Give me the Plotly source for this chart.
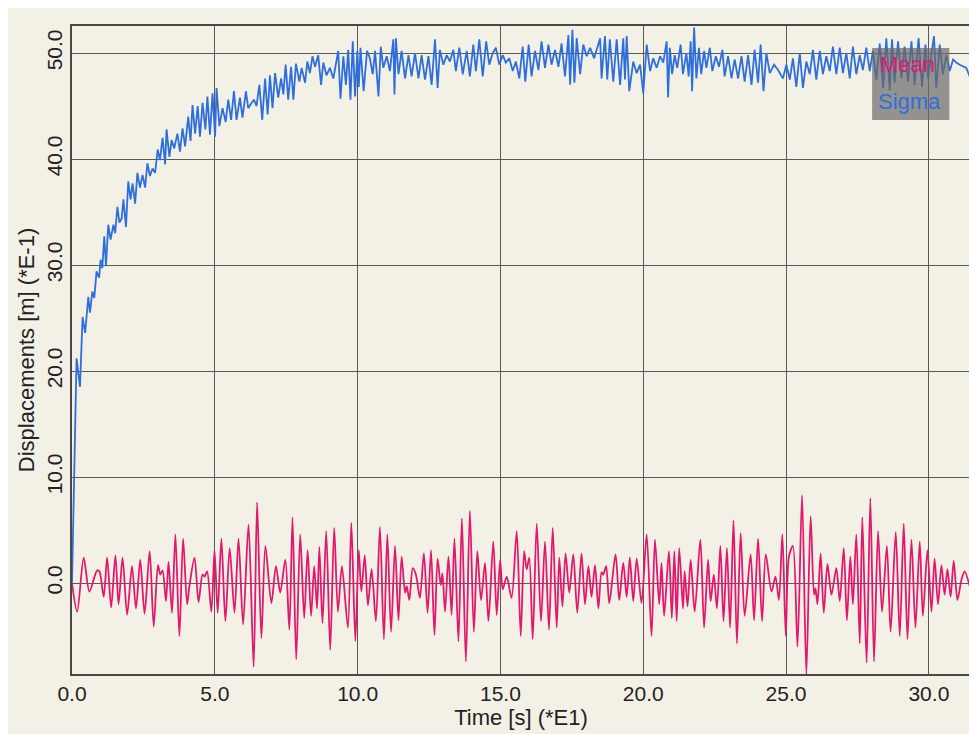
import plotly.graph_objects as go

# ---- data ----
mean_t = [0.00, 0.18, 0.41, 0.61, 0.88, 0.96, 1.11, 1.23, 1.37, 1.52, 1.63, 1.77, 1.93, 2.10, 2.24, 2.39,
          2.54, 2.72, 2.86, 3.01, 3.09, 3.17, 3.29, 3.38, 3.50, 3.62, 3.76, 3.89, 4.03, 4.11, 4.29, 4.43,
          4.57, 4.64, 4.73, 4.88, 4.99, 5.10, 5.23, 5.37, 5.52, 5.69, 5.83, 5.99, 6.18, 6.36, 6.48, 6.63,
          6.77, 6.98, 7.14, 7.29, 7.47, 7.61, 7.72, 7.85, 7.99, 8.13, 8.25, 8.37, 8.48, 8.58, 8.66, 8.77,
          8.90, 9.04, 9.18, 9.31, 9.45, 9.66, 9.78, 9.92, 10.04, 10.13, 10.25, 10.36,
          10.49, 10.64, 10.78, 10.92, 11.04, 11.17, 11.31, 11.43, 11.54, 11.66, 11.72, 11.81, 11.93, 12.04,
          12.18, 12.32, 12.45, 12.57, 12.69, 12.80, 12.91, 12.97, 13.06, 13.18, 13.29, 13.39, 13.53, 13.65,
          13.79, 13.93, 14.07, 14.19, 14.32, 14.46, 14.58, 14.75, 14.87, 14.99, 15.08, 15.22, 15.39, 15.57,
          15.71, 15.83, 15.92, 16.01, 16.13, 16.27, 16.42, 16.56, 16.70, 16.83, 16.97, 17.06, 17.17, 17.28,
          17.41, 17.55, 17.69, 17.84, 17.96, 18.08, 18.19, 18.31, 18.43, 18.54, 18.60, 18.70, 18.81, 19.03,
          19.16, 19.30, 19.42, 19.53, 19.65, 19.77, 19.94, 20.12, 20.29, 20.41, 20.56, 20.64, 20.73,
          20.90, 21.00, 21.09, 21.17, 21.26, 21.39, 21.45, 21.55, 21.66, 21.80, 22.00, 22.13, 22.27, 22.36,
          22.47, 22.58, 22.70, 22.81, 22.93, 23.04, 23.16, 23.28, 23.41, 23.55, 23.76, 23.88, 24.02, 24.16,
          24.29, 24.49, 24.63, 24.75, 24.87, 24.99, 25.10, 25.24, 25.40, 25.56, 25.71, 25.86, 25.98, 26.03,
          26.10, 26.21, 26.32, 26.45, 26.59, 26.76, 26.88, 27.02, 27.13, 27.25, 27.34, 27.46, 27.58, 27.67,
          27.82, 27.95, 28.08, 28.22, 28.36, 28.53, 28.66, 28.84, 28.98, 29.12, 29.25, 29.39, 29.53, 29.68,
          29.79, 29.95, 30.09, 30.20, 30.32, 30.44, 30.55, 30.65, 30.76, 30.87, 31.00, 31.14, 31.25, 31.43]
mean_v = [0.0, -2.7, 2.4, -0.8, 1.2, 1.1, -1.3, 2.4, -2.3, 2.6, -2.0, 2.4, -3.0, 1.6, -2.4, 2.2,
          -2.9, 3.0, -4.1, 1.7, 0.8, 1.2, -1.7, 2.0, -2.8, 4.6, -5.0, 4.2, -2.0, -0.3, 2.4, -1.8,
          0.8, 0.6, 1.1, -2.7, 3.1, -2.8, 4.2, -3.6, 3.3, -2.8, 4.2, -3.9, 5.5, -7.9, 7.6, -5.2,
          3.5, -1.9, 1.6, -0.9, 2.2, -4.4, 6.2, -7.2, 4.6, -3.3, 3.1, -3.1, 1.6, -2.4, 3.4, -3.8,
          4.9, -6.3, 5.2, -2.7, 1.6, -4.2, 5.7, -5.5, 3.1, -0.8, 2.6, -2.1,
          1.3, -3.6, 5.3, -5.3, 4.6, -4.6, 3.5, -3.5, 2.5, -0.9, -0.3, -1.6, 1.4, 0.8,
          -1.4, 2.8, -2.8, 3.1, -4.9, 2.3, -0.2, 0.9, -2.7, 2.5, -3.0, 4.2, -5.5, 6.1,
          -7.4, 6.8, -4.6, 3.0, -1.6, 1.9, -3.6, 3.9, -3.0, 2.2, -0.6, 0.6, -1.4, 4.9,
          -5.0, 3.0, 1.3, 2.4, -5.3, 5.6, -3.6, 3.9, -4.4, 5.2, -4.2, 2.4, -2.2, 2.8,
          -0.9, 2.7, -2.8, 2.8, -2.0, 1.6, -1.3, 1.7, -2.4, 1.0, 0.8, 1.6, -1.9, 2.7,
          -1.6, 1.9, -1.3, 2.4, -1.7, 2.3, -1.9, 4.6, -5.0, 4.1, -2.0, 1.9, -3.1,
          3.0, -3.3, 3.0, -3.6, 3.3, -2.4, 1.1, -2.2, 2.2, -2.7, 4.1, -4.2, 2.2, -1.7,
          0.8, -2.4, 3.5, -3.6, 3.3, -4.2, 5.9, -5.7, 4.7, -3.1, 2.7, -3.5, 4.2, -3.6,
          2.7, -0.8, 0.6, -1.6, 4.6, -5.0, 2.5, 3.5, -6.0, 8.3, -8.6, 6.3, -1.1, -0.5,
          -2.0, 2.8, -2.8, 1.8, -1.1, 1.4, -1.7, 3.3, -3.5, 2.5, -2.0, 4.6, -5.7, 6.2,
          -7.5, 8.0, -7.4, 4.9, -2.7, 3.5, -4.6, 4.8, -5.0, 5.6, -5.3, 4.1, -4.2, 3.9,
          -3.1, 3.1, -2.7, 2.3, -2.0, 1.7, -1.1, 1.3, -1.3, 2.1, -1.6, 0.3, 1.1, -0.3]

sigma_t = [0.00, 0.105, 0.16, 0.28, 0.37, 0.46, 0.57, 0.63, 0.71, 0.78, 0.86, 0.95, 1.00, 1.06, 1.13, 1.19,
           1.27, 1.35, 1.45, 1.51, 1.59, 1.66, 1.74, 1.80, 1.89, 1.97, 2.05, 2.12, 2.21, 2.29, 2.38, 2.47,
           2.56, 2.64, 2.73, 2.82, 2.91, 3.00, 3.08, 3.17, 3.26, 3.31, 3.41, 3.49, 3.58, 3.69, 3.78, 3.87,
           3.96, 4.07, 4.15, 4.22, 4.31, 4.40, 4.48, 4.57, 4.67, 4.74, 4.83, 4.92, 5.01, 5.06, 5.16, 5.27,
           5.38, 5.47, 5.57, 5.67, 5.76, 5.88, 5.97, 6.09, 6.17, 6.29, 6.37, 6.46, 6.56, 6.66, 6.76, 6.85,
           6.93, 7.02, 7.11, 7.22, 7.32, 7.40, 7.48, 7.57, 7.67, 7.75, 7.84, 7.96, 8.04, 8.16, 8.24, 8.33,
           8.42, 8.51, 8.62, 8.72, 8.80, 8.91, 9.03, 9.15, 9.32, 9.40, 9.50, 9.59, 9.67, 9.75, 9.83, 9.91,
           9.99, 10.04, 10.10, 10.21, 10.33,
           10.43, 10.53, 10.61, 10.73, 10.81, 10.90, 11.02, 11.13, 11.25, 11.29, 11.34, 11.43, 11.54, 11.66,
           11.78, 11.89, 12.01, 12.13, 12.24, 12.36, 12.48, 12.59, 12.71, 12.80, 12.88, 13.00, 13.12, 13.23,
           13.35, 13.44, 13.56, 13.68, 13.82, 13.93, 14.05, 14.14, 14.26, 14.38, 14.50, 14.61, 14.73, 14.84,
           14.96, 15.08, 15.19, 15.31, 15.43, 15.54, 15.66, 15.78, 15.87, 15.99, 16.09, 16.21, 16.33, 16.44,
           16.56, 16.68, 16.79, 16.91, 17.03, 17.14, 17.26, 17.38, 17.44, 17.52, 17.59, 17.67, 17.79, 17.90,
           18.02, 18.14, 18.28, 18.49, 18.54, 18.66, 18.74, 18.83, 18.95, 19.07, 19.19, 19.30, 19.36, 19.42,
           19.51, 19.65, 19.77, 19.89, 20.00, 20.12, 20.24, 20.35, 20.47, 20.59, 20.70, 20.82,
           20.87, 20.93, 21.01, 21.10, 21.19, 21.31, 21.39, 21.51, 21.59, 21.66, 21.71, 21.78, 21.86, 21.95,
           22.03, 22.13, 22.21, 22.33, 22.42, 22.54, 22.65, 22.77, 22.85, 22.97, 23.09, 23.20, 23.32, 23.44,
           23.55, 23.67, 23.79, 23.90, 24.02, 24.11, 24.21, 24.31, 24.43, 24.58, 24.72, 24.89, 25.01, 25.13,
           25.24, 25.36, 25.48, 25.59, 25.71, 25.83, 25.94, 26.06, 26.18, 26.29, 26.41, 26.53, 26.64, 26.76,
           26.88, 26.99, 27.11, 27.23, 27.34, 27.46, 27.58, 27.69, 27.81, 27.93, 28.04, 28.16, 28.28, 28.40,
           28.51, 28.63, 28.71, 28.80, 28.92, 29.04, 29.15, 29.27, 29.39, 29.50, 29.64, 29.76, 29.88, 29.97,
           30.18, 30.26, 30.38, 30.49, 30.61, 30.73, 30.85, 30.96, 31.08, 31.20, 31.31, 31.43]
sigma_v = [0.0, 15.4, 21.2, 18.5, 25.1, 23.6, 27.0, 25.5, 27.5, 26.9, 29.4, 28.8, 30.5, 29.7, 32.7, 29.9,
           33.8, 32.4, 33.8, 33.0, 35.5, 34.0, 34.4, 36.2, 33.6, 37.9, 36.2, 37.7, 35.8, 38.7, 37.3, 38.5,
           37.3, 39.6, 38.4, 39.1, 38.7, 40.9, 39.9, 42.0, 39.5, 42.8, 40.2, 41.8, 41.0, 42.4, 40.7, 42.9,
           41.2, 44.0, 41.7, 45.1, 42.4, 45.0, 42.1, 45.3, 42.8, 45.9, 42.3, 46.2, 42.1, 46.7, 43.1, 44.8,
           43.5, 45.6, 43.7, 46.4, 43.7, 45.8, 43.9, 46.4, 44.8, 45.3, 45.6, 45.0, 47.0, 43.7, 47.6, 44.2,
           47.9, 44.8, 48.1, 45.8, 47.6, 46.1, 48.9, 45.6, 48.7, 45.6, 49.0, 47.3, 48.6, 47.2, 49.2, 48.1,
           49.7, 48.7, 49.8, 47.0, 49.1, 47.9, 48.6, 47.6, 50.2, 45.7, 49.7, 47.0, 50.3, 45.6, 51.1, 45.9,
           50.2, 46.8, 50.5, 46.4, 50.2,
           49.5, 48.0, 50.2, 45.9, 50.6, 48.6, 49.7, 48.3, 51.3, 46.1, 51.4, 48.0, 50.2, 47.6,
           49.8, 47.8, 50.0, 47.6, 49.8, 47.5, 49.7, 47.0, 51.3, 46.7, 50.3, 48.9, 49.8, 49.2,
           50.3, 48.3, 50.5, 48.0, 50.2, 47.8, 50.8, 48.3, 51.3, 47.8, 51.1, 48.9, 50.0, 50.5,
           48.9, 49.8, 49.1, 49.5, 48.3, 49.2, 47.6, 50.6, 47.3, 50.8, 47.8, 50.2, 48.4, 51.1,
           48.6, 50.8, 48.9, 50.3, 48.7, 50.9, 47.8, 51.7, 47.0, 52.2, 47.2, 51.4, 48.0, 50.8,
           49.7, 50.5, 49.5, 51.4, 47.6, 51.6, 47.5, 51.3, 47.3, 51.3, 47.0, 51.4, 47.5, 51.6,
           46.4, 49.2, 48.1, 48.9, 46.2, 50.8, 48.3, 49.5, 48.6, 49.7, 49.1, 51.1,
           45.8, 50.5, 48.0, 49.8, 48.6, 50.8, 48.0, 50.0, 47.8, 51.1, 46.4, 52.4, 47.6, 50.5,
           48.0, 50.2, 48.6, 50.5, 48.3, 49.7, 48.7, 50.3, 47.8, 49.7, 47.6, 49.4, 47.6, 49.7,
           47.3, 49.8, 47.0, 50.3, 47.2, 50.8, 46.4, 50.0, 48.1, 48.9, 48.4, 47.6, 48.9, 47.5,
           49.5, 46.8, 50.0, 46.7, 49.2, 48.0, 50.3, 47.5, 50.2, 48.0, 49.7, 48.3, 50.6, 48.0,
           50.5, 48.1, 50.0, 47.6, 50.6, 48.0, 49.8, 48.4, 50.5, 48.3, 50.2, 47.5, 50.9, 46.7,
           51.4, 46.5, 51.3, 47.2, 51.1, 47.6, 50.6, 47.3, 51.1, 47.0, 51.4, 46.8, 50.8, 47.6,
           51.6, 46.7, 50.8, 48.0, 49.8, 48.3, 49.4, 49.1, 48.9, 48.7, 48.6, 47.8]

x_ticks = [0, 5, 10, 15, 20, 25, 30]
x_labels = ["0.0", "5.0", "10.0", "15.0", "20.0", "25.0", "30.0"]
y_ticks = [0, 10, 20, 30, 40, 50]
y_labels = ["0.0", "10.0", "20.0", "30.0", "40.0", "50.0"]

BG = "#f3f1e6"
MEAN_C = "#e2186e"
SIGMA_C = "#2f6fdc"
FONT = "Liberation Sans, Arial, sans-serif"

fig = go.Figure()
fig.add_trace(go.Scatter(x=mean_t, y=mean_v, mode="lines", name="Mean",
                         line=dict(color=MEAN_C, width=1.8, shape="spline", smoothing=0.8)))
fig.add_trace(go.Scatter(x=sigma_t, y=sigma_v, mode="lines", name="Sigma",
                         line=dict(color=SIGMA_C, width=1.8)))

# legend box (semi-transparent, drawn over the lines)
fig.add_shape(type="rect", xref="paper", yref="paper", x0=0.891, x1=0.977, y0=0.855, y1=0.966,
              fillcolor="rgba(105,105,105,0.7)", line=dict(width=0), layer="above")
fig.add_annotation(xref="paper", yref="paper", x=0.930, y=0.940, xanchor="center", yanchor="middle",
                   text="Mean", showarrow=False, font=dict(family=FONT, size=22, color=MEAN_C))
fig.add_annotation(xref="paper", yref="paper", x=0.933, y=0.883, xanchor="center", yanchor="middle",
                   text="Sigma", showarrow=False, font=dict(family=FONT, size=22, color=SIGMA_C))

fig.update_layout(
    width=977, height=734,
    paper_bgcolor=BG, plot_bgcolor=BG,
    margin=dict(l=64, r=15, t=18, b=68),
    showlegend=False,
    font=dict(family=FONT, size=21, color="#222222"),
)
fig.update_xaxes(range=[0, 31.44], tickvals=x_ticks, ticktext=x_labels,
                 showgrid=True, gridcolor="#5a5a55", gridwidth=1.2,
                 showline=True, linecolor="#4a4a45", linewidth=2, mirror=True,
                 zeroline=False, ticks="", ticklen=0,
                 title=dict(text="Time [s] (*E1)", standoff=4, font=dict(size=22)))
fig.update_yaxes(range=[-8.58, 52.55], tickvals=y_ticks, ticktext=y_labels, tickangle=-90,
                 showgrid=True, gridcolor="#5a5a55", gridwidth=1.2,
                 showline=True, linecolor="#4a4a45", linewidth=2, mirror=True,
                 zeroline=False, ticks="", ticklen=0,
                 title=dict(text="Displacements [m] (*E-1)", standoff=2, font=dict(size=22)))

fig.write_html("out.html")
